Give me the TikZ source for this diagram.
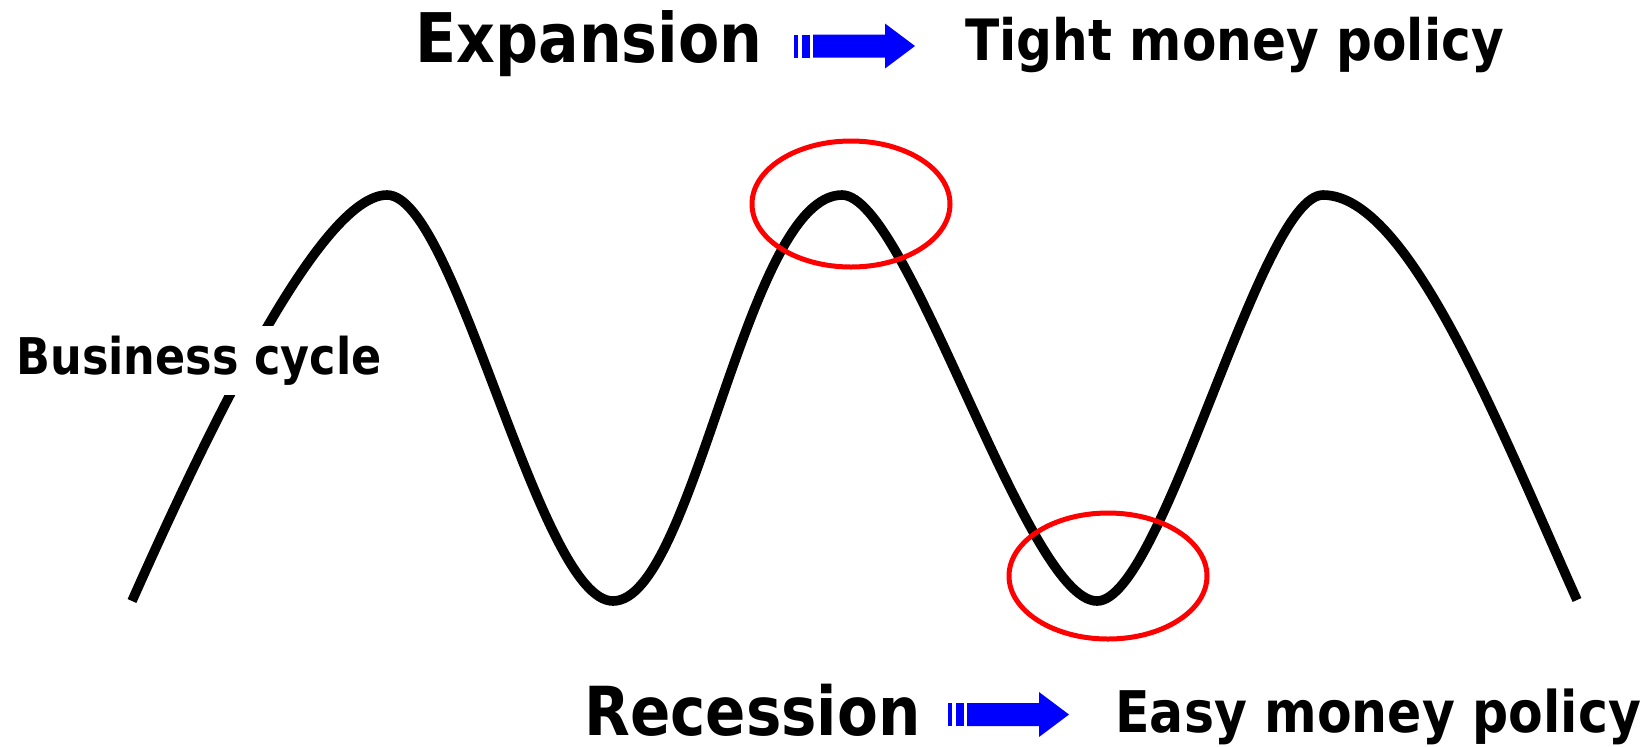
\documentclass[tikz,border=0pt]{standalone}
\usepackage{fontspec}
\newfontfamily\labfont{DejaVu Sans}[FakeStretch=0.88]
\tikzset{
  curve/.style={line width=4.8pt, black, line join=round},
  ring/.style={line width=2.5pt, red},
  lab/.style={inner sep=0pt, anchor=base west, font=\labfont\bfseries},
  blockarrow/.pic={
    \fill[blue] (0,-11.5) rectangle (4,11.5);
    \fill[blue] (8,-11.5) rectangle (16,11.5);
    \fill[blue] (19,-11.5) -- (91,-11.5) -- (91,-22.5) -- (121,0) -- (91,22.5) -- (91,11.5) -- (19,11.5) -- cycle;
  }
}
\begin{document}
\begin{tikzpicture}[x=0.5pt,y=-0.5pt]
\useasboundingbox (0,0) rectangle (1645,746);
\coordinate (s0) at (132,601);
\coordinate (p1) at (387,195);
\coordinate (t1) at (613,601);
\coordinate (p2) at (842,195);
\coordinate (t2) at (1097,601);
\coordinate (p3) at (1323,195);
\coordinate (e0) at (1577,600);
\draw[curve] (s0)
  .. controls (212,421) and (322,195) .. (p1)
  .. controls (456,195) and (539,601) .. (t1)
  .. controls (694,601) and (746,195) .. (p2)
  .. controls (908,195) and (1026,601) .. (t2)
  .. controls (1163,601) and (1260,195) .. (p3)
  .. controls (1408,195) and (1496,419) .. (e0);
\node[lab, fill=white, inner ysep=5pt, font=\labfont\bfseries\fontsize{25.3pt}{30pt}\selectfont] (cycle) at (16,374) {Business cycle};
\draw[ring] (851,204) ellipse [x radius=99, y radius=63];
\draw[ring] (1108,576) ellipse [x radius=99, y radius=63];
\node[lab, font=\labfont\bfseries\fontsize{34.2pt}{40pt}\selectfont] (exp) at (415,62) {Expansion};
\node[lab, font=\labfont\bfseries\fontsize{28.5pt}{34pt}\selectfont] (tight) at (965,60) {Tight money policy};
\node[lab, font=\labfont\bfseries\fontsize{33.8pt}{40pt}\selectfont] (rec) at (584,735) {Recession};
\node[lab, font=\labfont\bfseries\fontsize{28.7pt}{34pt}\selectfont] (easy) at (1115,732) {Easy money policy};
\pic at (794,46) {blockarrow};
\pic at (948,714.5) {blockarrow};
\end{tikzpicture}
\end{document}
